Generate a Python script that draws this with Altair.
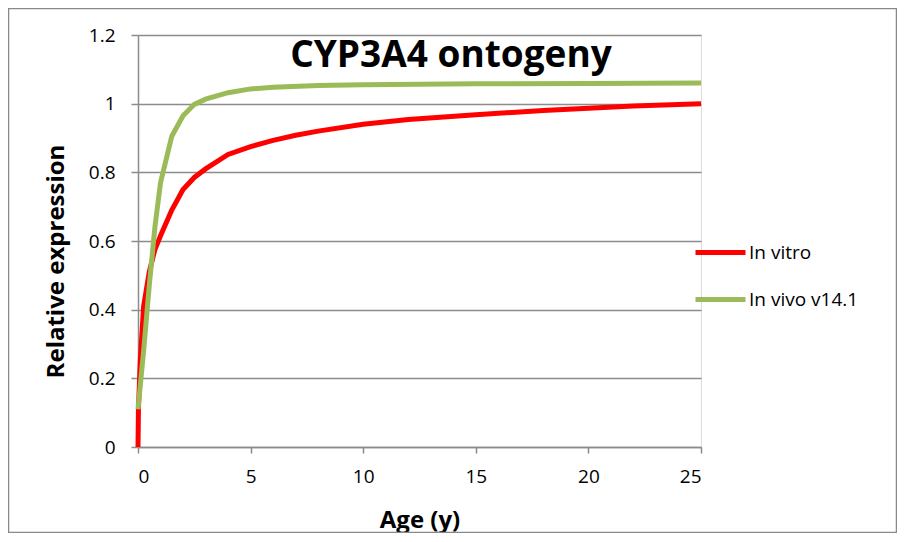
import altair as alt
import pandas as pd

series_names = ["In vitro", "In vivo v14.1"]

vitro_age = [0, 0.02, 0.1, 0.25, 0.5, 0.75, 1, 1.5, 2, 2.5, 3, 4, 5, 6, 7, 8, 10, 12, 15, 18, 20, 22, 25]
vitro_val = [0.0, 0.11, 0.25, 0.41, 0.51, 0.575, 0.615, 0.69, 0.75, 0.785, 0.81, 0.852, 0.875, 0.893, 0.908, 0.92, 0.94, 0.954, 0.968, 0.98, 0.987, 0.993, 1.0]

vivo_age = [0, 0.25, 0.5, 0.75, 1, 1.5, 2, 2.5, 3, 4, 5, 6, 8, 10, 15, 20, 25]
vivo_val = [0.11, 0.28, 0.47, 0.64, 0.77, 0.905, 0.965, 0.998, 1.013, 1.032, 1.043, 1.048, 1.053, 1.055, 1.058, 1.059, 1.06]

chart_title = "CYP3A4 ontogeny"
x_title = "Age (y)"
y_title = "Relative expression"
x_ticks = [0, 5, 10, 15, 20, 25]
y_ticks = [0, 0.2, 0.4, 0.6, 0.8, 1.0, 1.2]
colors = ["#ff0000", "#9bbb59"]

df = pd.concat([
    pd.DataFrame({"age": vitro_age, "value": vitro_val, "series": series_names[0], "ord": 0}),
    pd.DataFrame({"age": vivo_age, "value": vivo_val, "series": series_names[1], "ord": 1}),
])

FONT = "Open Sans"
GRID = "#8c8c8c"

lines = alt.Chart(df).mark_line(strokeWidth=5, clip=False).encode(
    x=alt.X("age:Q", scale=alt.Scale(domain=[0, 25], nice=False),
            axis=alt.Axis(values=x_ticks, title=x_title, grid=False,
                          domainColor=GRID, tickColor=GRID, domainWidth=1.5, tickWidth=1.5,
                          tickSize=6, labelFontSize=19, labelFont=FONT, labelColor="black",
                          labelPadding=14, titleFont=FONT, titleFontSize=24, titleFontWeight="bold",
                          titleColor="black", titlePadding=22)),
    y=alt.Y("value:Q", scale=alt.Scale(domain=[0, 1.2], nice=False),
            axis=alt.Axis(values=y_ticks, title=y_title, grid=True, gridColor=GRID, gridWidth=1.5,
                          gridOpacity=1, domainColor=GRID, tickColor=GRID, domainWidth=1.5,
                          tickWidth=1.5, tickSize=7, labelFontSize=19, labelFont=FONT,
                          labelColor="black", labelPadding=16,
                          labelExpr="format(datum.value, '~g')",
                          titleFont=FONT, titleFontSize=24, titleFontWeight="bold",
                          titleColor="black", titlePadding=20, titleY=226)),
    color=alt.Color("series:N", scale=alt.Scale(domain=series_names, range=colors),
                    legend=alt.Legend(title=None, orient="none", legendX=555, legendY=190,
                                      symbolType="stroke", symbolSize=2500, symbolStrokeWidth=5,
                                      labelFontSize=19, labelFont=FONT, labelColor="black",
                                      labelOffset=1, rowPadding=9)),
    order="ord:Q",
    detail="series:N",
)

title_df = pd.DataFrame({"t": [chart_title]})
title = alt.Chart(title_df).mark_text(fontSize=37, fontWeight="bold", font=FONT,
                                      align="center", baseline="alphabetic", color="black").encode(
    text="t:N", x=alt.value(313), y=alt.value(32))

frame = alt.Chart(title_df).mark_rect(fill=None, stroke="#898989", strokeWidth=1.5).encode(
    x=alt.value(-129.5), x2=alt.value(758.5), y=alt.value(-26.5), y2=alt.value(497.5))

chart = alt.layer(frame, lines, title).properties(
    width=563, height=412,
    autosize=alt.AutoSizeParams(type="none"),
    padding={"left": 130, "top": 27, "right": 196, "bottom": 86},
).configure_view(stroke=None).configure(background="white")

chart.save("out.html", embed_options={"renderer": "svg", "actions": False})
